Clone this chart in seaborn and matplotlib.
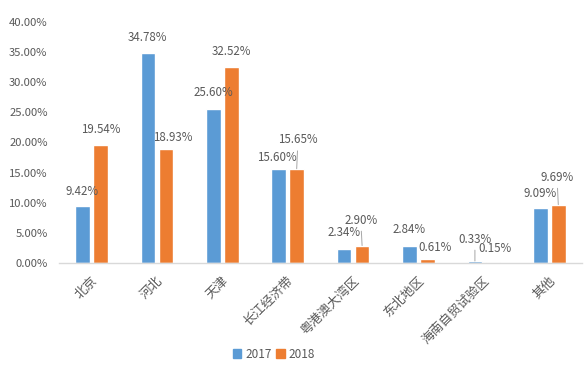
import matplotlib
matplotlib.use("Agg")
import matplotlib.pyplot as plt
import seaborn as sns
import pandas as pd
from matplotlib.patches import Patch
from matplotlib.ticker import FuncFormatter
from matplotlib.transforms import ScaledTranslation

# ---- data ----
categories = ["北京", "河北", "天津", "长江经济带", "粤港澳大湾区", "东北地区", "海南自贸试验区", "其他"]
years = ["2017", "2018"]
share_2017 = [9.42, 34.78, 25.60, 15.60, 2.34, 2.84, 0.33, 9.09]
share_2018 = [19.54, 18.93, 32.52, 15.65, 2.90, 0.61, 0.15, 9.69]
yticks = [0, 5, 10, 15, 20, 25, 30, 35, 40]

# label placement (pixel offsets from bar top centre) and leader-line flags
off_2017 = [(-0.5, 15), (0, 15.5), (0, 16), (-2, 12), (0, 16), (0, 16), (0, 22), (0, 15)]
off_2018 = [(0, 16), (6.5, 11), (0, 16), (1, 29), (-1, 25.5), (8, 12), (2, 14), (-1, 27.5)]
lead_2017 = [False, False, False, False, False, False, True, False]
lead_2018 = [False, False, False, True, True, False, False, True]

BLUE = "#5B9BD5"
ORANGE = "#ED7D31"
TXT = "#595959"

df = pd.DataFrame({
    "region": categories * 2,
    "year": [years[0]] * len(categories) + [years[1]] * len(categories),
    "share": share_2017 + share_2018,
})

sns.set_theme(style="white")
plt.rcParams["font.family"] = ["Noto Sans CJK SC", "DejaVu Sans"]

fig = plt.figure(figsize=(5.84, 3.67), dpi=100)
ax = fig.add_axes([58.8 / 584, 104 / 367, (582 - 58.8) / 584, (263 - 22) / 367])

sns.barplot(data=df, x="region", y="share", hue="year", palette=[BLUE, ORANGE],
            width=0.55, gap=0.19, ax=ax, legend=False, saturation=1)

ax.set_ylim(0, 40)
ax.set_xlim(-0.5, len(categories) - 0.5)
ax.set_yticks(yticks)
ax.yaxis.set_major_formatter(FuncFormatter(lambda v, p: f"{v:.2f}%"))
ax.set_xlabel("")
ax.set_ylabel("")
for s in ["left", "right", "top"]:
    ax.spines[s].set_visible(False)
ax.spines["bottom"].set_color("#D9D9D9")
ax.spines["bottom"].set_linewidth(1.0)
ax.tick_params(axis="y", length=0, pad=8, labelsize=8.1, labelcolor=TXT)
ax.tick_params(axis="x", length=0, pad=8, labelsize=9.2, labelcolor=TXT)
for lab in ax.get_xticklabels():
    lab.set_rotation(45)
    lab.set_ha("right")
    lab.set_va("top")
    lab.set_rotation_mode("anchor")
    lab.set_transform(lab.get_transform() + ScaledTranslation(-1 / 100, 0, fig.dpi_scale_trans))

px2pt = 72 / 100
for cont, vals, offs, leads in [(ax.containers[0], share_2017, off_2017, lead_2017),
                                 (ax.containers[1], share_2018, off_2018, lead_2018)]:
    for bar, v, (dx, dy), lead in zip(cont, vals, offs, leads):
        xc = bar.get_x() + bar.get_width() / 2
        kw = {}
        if lead:
            kw["arrowprops"] = dict(arrowstyle="-", color="#A6A6A6", lw=0.7,
                                    shrinkA=1, shrinkB=0, relpos=(0.5, 0.0))
        ax.annotate(f"{v:.2f}%", xy=(xc, bar.get_height()),
                    xytext=(dx * px2pt, dy * px2pt), textcoords="offset points",
                    ha="center", va="center", fontsize=8.3, color=TXT, **kw)

handles = [Patch(color=BLUE, label=years[0]), Patch(color=ORANGE, label=years[1])]
leg = fig.legend(handles=handles, loc="center", bbox_to_anchor=(274 / 584, 13 / 367),
                 ncol=2, frameon=False, fontsize=8.5, handlelength=0.7, handleheight=0.7,
                 handletextpad=0.35, columnspacing=0.4, borderpad=0)
for t in leg.get_texts():
    t.set_color(TXT)

fig.savefig("out.png", dpi=100)
